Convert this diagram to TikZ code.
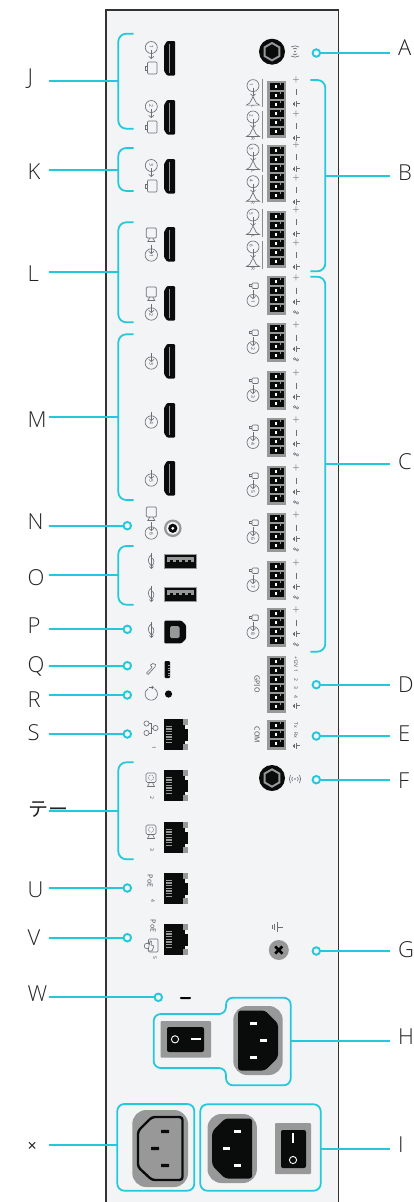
\documentclass[tikz,border=0pt]{standalone}
\usepackage{fontspec}
\setmainfont{Open Sans Light}
\newfontfamily\cjk{Noto Sans CJK JP}
\newfontfamily\boldfont{Noto Sans}
\usetikzlibrary{arrows.meta,positioning,calc}
\definecolor{leadcyan}{RGB}{34,200,220}
\definecolor{panelbg}{RGB}{243,244,246}
\definecolor{paneledge}{RGB}{51,51,51}
\definecolor{icongray}{RGB}{108,110,113}
\definecolor{portgray}{RGB}{152,152,152}
\definecolor{portblack}{RGB}{10,12,12}
\definecolor{labelink}{RGB}{34,34,34}
\definecolor{printink}{RGB}{80,82,85}
\tikzset{
  lead/.style={leadcyan,line width=1.75pt},
  tiedot/.style={circle,draw=leadcyan,fill=panelbg,line width=1.9pt,minimum size=7.5pt,inner sep=0pt},
  leftlab/.style={anchor=west,font=\fontsize{22}{24}\selectfont,text=labelink,text width=21.5pt,inner sep=0pt,align=left},
  rightlab/.style={anchor=west,font=\fontsize{22}{24}\selectfont,text=labelink,inner ysep=0pt,inner xsep=8pt},
  icon/.style={icongray,line width=0.65pt},
  mini/.style={font=\fontsize{5}{6}\selectfont\boldfont,text=printink,inner sep=0pt,rotate=-90},
  boldmini/.style={mini,font=\fontsize{7}{8}\selectfont\boldfont\bfseries},
  plain/.style={font=\fontsize{13}{14}\selectfont,text=icongray,inner sep=0pt},
  % ports
  hdmi/.pic={
    \fill[portblack,rounded corners=1pt] (3,0)--(11,0)--(11,34.5)--(3,34.5)--(0,30)--(0,5)--cycle;
    \fill[portgray] (4.8,3) rectangle (6.4,31.5);
  },
  rjport/.pic={
    \fill[portblack] (0,0) rectangle (18.5,31);
    \fill[portblack] (18.5,6) rectangle (21,25);
    \fill[portblack] (21,10) rectangle (24,21.5);
    \fill[portgray] (18.5,0) rectangle (24,6);
    \fill[portgray] (18.5,25) rectangle (24,31);
    \foreach \s in {0,...,6} \fill[portgray] (1.5,6.5+2.7*\s) rectangle (7.5,7.8+2.7*\s);
  },
  usba/.pic={
    \fill[portblack] (0,0) rectangle (32.5,14);
    \draw[portgray,line width=0.8pt] (0,0) rectangle (32.5,14);
    \fill[portgray] (2.5,3) rectangle (30,7.5);
    \foreach \s in {6,12,18,24} \fill[portblack] (\s,6.3) rectangle (\s+2.5,7.5);
  },
  iec/.pic={
    \fill[portgray,rounded corners=14pt] (-24.7,-34.5) rectangle (24.7,34.5);
    \fill[portblack,rounded corners=3pt] (-7,-30)--(20,-30)--(20,30)--(-7,30)--(-20,17)--(-20,-17)--cycle;
    \foreach \px/\py in {5/-17,-5.5/0,5/17} \fill[white] (\px-3.5,\py-1.5) rectangle (\px+3.5,\py+1.5);
  },
  jackhex/.pic={
    \fill[portblack] (0,0) circle (13);
    \fill[portgray] (90:9.8)--(150:9.8)--(210:9.8)--(270:9.8)--(330:9.8)--(30:9.8)--cycle;
    \fill[portblack] (90:7.4)--(150:7.4)--(210:7.4)--(270:7.4)--(330:7.4)--(30:7.4)--cycle;
  },
  termpin/.pic={
    \fill[portblack] (2.3,0.3) rectangle (17,8.1);
    \fill[portgray] (12.5,0.3) rectangle (13.8,2.2);
    \fill[white] (7.4,3) rectangle (9.8,5.4);
  },
  % icons
  wave/.pic={
    \fill[icongray] (0,0) circle (0.8);
    \draw[icon] (-2.5,-2) .. controls (-3.5,-0.8) and (-3.5,0.8) .. (-2.5,2);
    \draw[icon] (-4.5,-4) .. controls (-6,-1.5) and (-6,1.5) .. (-4.5,4);
    \draw[icon] (2.5,-2) .. controls (3.5,-0.8) and (3.5,0.8) .. (2.5,2);
    \draw[icon] (4.5,-4) .. controls (6,-1.5) and (6,1.5) .. (4.5,4);
  },
  gnd/.pic={
    \draw[icon] (0,0) -- (3.5,0);
    \draw[icon] (0,-3) -- (0,3);
    \draw[icon] (-1.3,-2) -- (-1.3,2);
    \draw[icon] (-2.6,-1) -- (-2.6,1);
  },
  sense/.pic={
    \draw[icon,line width=0.5pt] (-1.4,-0.6) circle (1.2);
    \draw[icon,line width=0.5pt] (1.4,0.4) circle (1.2);
  },
  screen/.pic={
    \draw[icon,rounded corners=1pt] (-5,0) rectangle (5,10);
    \draw[icon] (-1.5,10) -- (-3.5,13.5) -- (3.5,13.5) -- (1.5,10);
  },
  downarrow/.pic={
    \draw[icon,-{Straight Barb[length=2.2pt,width=5pt]}] (0,0) -- (0,9);
  },
  usbleaf/.pic={
    \draw[icon,-{Straight Barb[length=2pt,width=4pt]}] (0,-8) -- (0,8);
    \draw[icon] (0,-6) .. controls (-4,-3) and (-4,1) .. (0,5);
    \draw[icon] (0,-3) .. controls (3.5,-2) and (3.5,2) .. (0,6);
  },
  webcam/.pic={
    \draw[icon,rounded corners=1.5pt] (-5,0) rectangle (5,9.5);
    \draw[icon,densely dotted] (0,4.7) circle (2.6);
    \draw[icon] (-1.5,9.5) -- (-3.5,13.5) -- (3.5,13.5) -- (1.5,9.5);
  },
  speaker/.pic={
    \draw[icon] (0,0) -- (-3.2,6.3) -- (-6.5,8.5) -- (6.5,8.5) -- (3.2,6.3) -- cycle;
  },
  mic/.pic={
    \draw[icon,rounded corners=1pt] (-2.5,-3) rectangle (3.8,2.5);
    \draw[icon] (-2.5,-1.2) -- (-5.5,-1.2) -- (-5.5,0.7) -- (-2.5,0.7);
  }
}
\begin{document}
\begin{tikzpicture}[x=1pt,y=-1pt]
  \useasboundingbox (0,0) rectangle (414,1202);
  % Panel
  \fill[panelbg] (106,10) rectangle (338.4,1203);
  \draw[paneledge,line width=1.5pt] (106,1203) -- (106,10) -- (338.4,10) -- (338.4,1203);

  % HDMI inputs and outputs
  \foreach \y in {41,100,159,227,286,344,403,461} \pic at (164,\y) {hdmi};
  \foreach \y/\n in {41/1,100/2,159/3}{
    \draw[icon] (151.3,\y+6.5) circle (6);
    \pic at (151.3,\y+9) {downarrow};
    \node[mini] (in\n) at (151.3,\y+6) {\n};
    \draw[icon,rounded corners=1pt] (147.5,\y+21) rectangle (157,\y+33);
    \draw[icon] (147.5,\y+25) -- (145.5,\y+25) -- (145.5,\y+29) -- (147.5,\y+29);
  }
  \foreach \y/\n in {227/1,286/2}{
    \pic at (151.3,\y+1) {screen};
    \pic at (151.3,\y+18) {downarrow};
    \draw[icon] (151.3,\y+28) circle (6.2);
    \node[mini] (ou\n) at (151.3,\y+29) {\n};
  }
  \foreach \y/\n in {344/3,403/4,461/5}{
    \pic at (151.3,\y+9) {downarrow};
    \draw[icon] (151.3,\y+19) circle (6.2);
    \node[mini] (ou\n) at (151.3,\y+20) {\n};
  }
  \pic at (151.3,507) {screen};
  \pic at (151.3,522) {downarrow};
  \draw[icon] (151.3,533) circle (6.2);
  \node[mini] (ou6) at (151.3,534) {6};
  % RCA
  \fill[portgray] (172.8,528.3) circle (8.8);
  \fill[panelbg] (172.8,528.3) circle (6.4);
  \fill[portblack] (172.8,528.3) circle (4.6);
  \fill[white] (172.8,528.3) circle (1.6);

  % USB
  \pic at (164.3,554) {usba};
  \pic at (164.3,587) {usba};
  \foreach \y in {561,594,630} \pic at (151.3,\y) {usbleaf};
  \fill[portblack,rounded corners=1pt] (164.3,620.7) -- (181.5,620.7) -- (186,625) -- (186,639) -- (181.5,643.3) -- (164.3,643.3) -- cycle;
  \fill[portgray,rounded corners=1.5pt] (170,626) rectangle (179.5,638);
  \fill[portblack,rounded corners=1pt] (164.7,661) rectangle (170,678);
  \foreach \y in {665,667.5,670,672.5,675} \fill[portgray] (168,\y) rectangle (170,\y+1);
  \draw[icon] (146.5,673) -- (152,667.5) -- (150.5,665) -- (153,663.5) -- (155.5,664.5) -- (155,667) -- (153.5,668.5) -- (148,674.5) -- cycle;

  % Reset
  \draw[icon] (154.4,688.63) arc (-60:240:6.2);
  \draw[icon,-{Straight Barb[length=1.6pt,width=3pt]}] (149,687.5) -- (154,687.5);
  \fill[portblack] (168.5,694) circle (3.6);

  % Ethernet
  \foreach \y in {719,770,822,873,924} \pic at (164,\y) {rjport};
  \foreach \cx/\cy in {146.5/723.5,146.5/733,155.5/728} \draw[icon] (\cx,\cy) circle (2.6);
  \draw[icon] (149,723.5) -- (151,723.5) -- (151,733) -- (149,733);
  \draw[icon] (151,728) -- (153,728);
  \pic at (151,773) {webcam};
  \pic at (151,825) {webcam};
  \foreach \x/\y/\n in {154/748/1,152/798/2,152/850/3,153/901/4,155/958/5} \node[mini] (rj\n) at (\x,\y) {\n};
  \foreach \x/\y/\n in {150/881/a,153/926/b} \node[boldmini] (poe\n) at (\x,\y) {PoE};
  \draw[icon,rounded corners=1pt] (148.5,939) rectangle (158,952);
  \draw[icon,fill=panelbg] (147,946) circle (2.8);
  \draw[icon,fill=panelbg,rounded corners=0.6pt] (148,951) -- (150,941) -- (151.5,941) -- (151,945) -- (154,946) -- (152,951) -- cycle;

  % Speaker outputs
  \foreach \y in {81,145,211} {
    \fill[portgray] (267.3,\y) rectangle (286,\y+57);
    \foreach \s in {0,...,5} \pic at (267.3,\y+1.3+9*\s) {termpin};
  }
  \foreach \c/\n/\s in {85.6/1/L,117/2/R,150/3/L,181.7/4/R,215/5/L,247/6/R}{
    \draw[icon] (253,\c) circle (6);
    \pic at (253,\c+2) {downarrow};
    \node[mini,font=\fontsize{4.5}{5}\selectfont\boldfont] (sp\n) at (251.3,\c-1) {\n};
    \pic at (253,\c+11) {speaker};
    \node[mini,font=\fontsize{4.5}{5}\selectfont\boldfont] (ch\n) at (253,\c+21.5) {\s};
    \draw[icongray!80,line width=0.7pt] (262.6,\c-6.5) -- (262.6,\c+21.5);
  }
  \foreach \y/\n in {81/a,115/b,146/c,179/d,211/e,244/f}{
    \node[plain] (plus\n) at (296,\y) {+};
    \draw[icon] (296,\y+8) -- (296,\y+14);
    \pic at (296,\y+22.5) {gnd};
  }

  % Microphone inputs
  \foreach \y/\n in {276/1,323/2,371/3,418/4,466/5,513/6,561/7,608/8}{
    \fill[portgray] (267.3,\y) rectangle (286,\y+39);
    \foreach \s in {0,...,3} \pic at (267.3,\y+1.3+9*\s) {termpin};
    \pic at (254.5,\y+10) {mic};
    \pic at (253,\y+14) {downarrow};
    \draw[icon] (253,\y+24.5) circle (6);
    \node[mini] (mi\n) at (253,\y+25.5) {\n};
    \node[plain] (mplus\n) at (296,\y+3) {+};
    \draw[icon] (296,\y+11.5) -- (296,\y+17.5);
    \pic at (296,\y+25.5) {gnd};
    \pic at (296,\y+36.5) {sense};
  }

  % GPIO and COM
  \fill[portgray] (267.3,656) rectangle (286,713);
  \foreach \s in {0,...,5} \pic at (267.3,657.3+9*\s) {termpin};
  \fill[portgray] (267.3,720) rectangle (286,750);
  \foreach \s in {0,...,2} \pic at (267.3,721.3+9*\s) {termpin};
  \node[boldmini] (gpiotext) at (257,684) {GPIO};
  \node[boldmini] (comtext) at (257,735) {COM};
  \foreach \y/\t/\n in {662/+12V/a,671/1/b,680/2/c,688/3/d,697/4/e,725/Tx/f,735/Rx/g} \node[mini] (pin\n) at (296,\y) {\t};
  \pic at (296,705.5) {gnd};
  \pic at (296,745.5) {gnd};

  % Jacks and ground
  \pic at (272,51.7) {jackhex};
  \pic at (272,778) {jackhex};
  \pic[rotate=90] at (295,51.5) {wave};
  \pic at (295,779) {wave};
  \pic[scale=1.7] at (277,927) {gnd};
  \fill[portgray] (278.8,950) circle (10);
  \draw[black,line width=2.6pt] (275.2,946.4) -- (282.4,953.6);
  \draw[black,line width=2.6pt] (275.2,953.6) -- (282.4,946.4);

  % Power
  \fill[black,rounded corners=0.8pt] (180,997) rectangle (191,999);
  \fill[portgray,rounded corners=1pt] (160.5,1021) rectangle (211,1057.5);
  \fill[portblack,rounded corners=2pt] (167,1027) rectangle (204,1052);
  \draw[white,line width=0.9pt] (175,1039.3) circle (3.6);
  \draw[white,line width=1.2pt] (191,1039) -- (201,1039);
  \pic[xscale=-1] at (258,1040.5) {iec};
  \pic at (232.2,1148.5) {iec};
  \fill[portgray,rounded corners=1pt] (275,1123) rectangle (311,1174);
  \fill[portblack,rounded corners=2pt] (281,1130) rectangle (306,1168);
  \draw[white,line width=1.2pt] (293,1133) -- (293,1143);
  \draw[white,line width=0.9pt] (293,1160) circle (3.6);
  % Grey inlet
  \fill[portgray,rounded corners=14pt] (132.3,1110) rectangle (188,1187);
  \draw[portblack,line width=2.4pt,rounded corners=3pt] (152,1117) -- (182.5,1117) -- (182.5,1180) -- (152,1180) -- (138,1167) -- (138,1131) -- cycle;
  \foreach \px/\py in {165/1131.5,155/1148.5,165/1165.5} \fill[portblack,rounded corners=0.5pt] (\px-4,\py-1.7) rectangle (\px+4,\py+1.7);

  % Brackets left
  \foreach \n/\t/\b/\m in {J/33.7/128.7/81,K/148/191/169.7,L/222.3/322.3/272.3,M/334.3/500/417,O/546/604.7/575,T/762.3/859.3/811}{
    \draw[lead,rounded corners=8pt] (133.7,\t) -- (118.3,\t) -- (118.3,\b) -- (133.7,\b);
    \coordinate (br\n) at (118.3,\m);
  }
  % Brackets right
  \foreach \n/\t/\b/\m in {B/80/271.3/175.7,C/276.7/651.7/464}{
    \draw[lead,rounded corners=8pt] (310.3,\t) -- (325.3,\t) -- (325.3,\b) -- (310.3,\b);
    \coordinate (br\n) at (325.3,\m);
  }
  % Boxes
  \draw[lead,rounded corners=7pt] (226,1014) -- (226,997.7) -- (290.7,997.7) -- (290.7,1085.3) -- (226,1085.3) -- (226,1068) -- (153.7,1068) -- (153.7,1014) -- cycle;
  \coordinate (brH) at (290.7,1041);
  \draw[lead,rounded corners=7pt] (200.3,1104.3) rectangle (320.7,1190.7);
  \coordinate (brI) at (320.7,1149.3);
  \draw[lead,rounded corners=7pt] (117.3,1104) rectangle (194.3,1190.7);
  \coordinate (brX) at (117.3,1144.7);

  % Dots
  \foreach \n/\x/\y in {N/127.3/525.7,P/127.3/629.3,Q/127.3/665.7,R/127.3/695,S/127.3/734,U/127.3/888,V/127.3/937.7,W/158.3/997.3,A/316.3/53,D/316.3/684.7,E/316.3/736,F/316.3/779.7,G/316.3/951}
    \node[tiedot] (br\n) at (\x,\y) {};

  % Labels left
  \foreach \n/\y in {J/79,K/172,L/274,M/420,N/521.3,O/577.3,P/625.5,Q/666.7,R/699.5,S/732.3,U/890,V/937.7,W/993.5}{
    \node[leftlab] (lb\n) at (27.5,\y) {\n};
    \draw[lead] (lb\n.east |- br\n) -- (br\n);
  }
  \coordinate (lbT) at (49,811);
  \draw[lead] (lbT) -- (brT);
  \node[leftlab,text width=44pt,font=\fontsize{20}{22}\selectfont\cjk,text=labelink] (labT) at (28,809.5) {テー};
  \coordinate (lbX) at (49,1144.7);
  \draw[lead] (lbX) -- (brX);
  \node[leftlab,font=\fontsize{16}{17}\selectfont\boldfont\bfseries] (labX) at (27.5,1147) {×};

  % Labels right
  \foreach \n/\y in {A/48,B/172.8,C/462,D/684.5,E/734,F/781,G/950,H/1036.7,I/1145}{
    \node[rightlab] (lb\n) at (390,\y) {\n};
    \draw[lead] (br\n) -- (lb\n.west |- br\n);
  }
\end{tikzpicture}
\end{document}
